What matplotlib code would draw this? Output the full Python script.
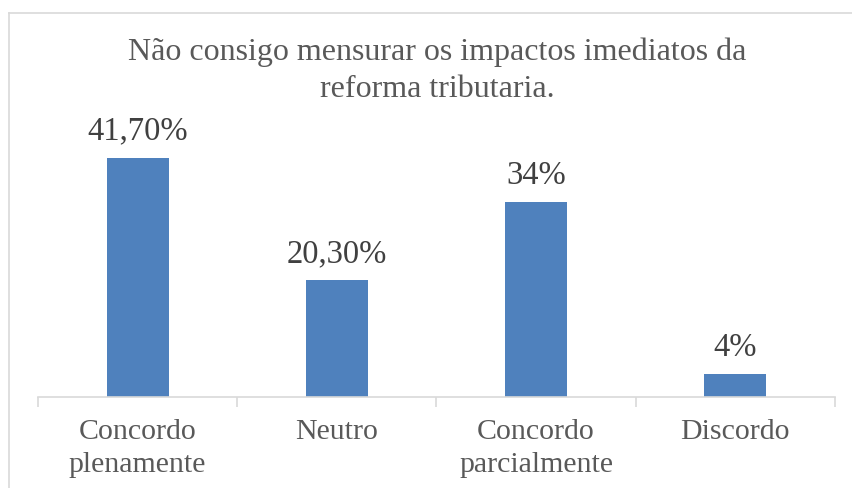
import matplotlib.pyplot as plt
from matplotlib.lines import Line2D

categories = ['Concordo\nplenamente', 'Neutro', 'Concordo\nparcialmente', 'Discordo']
values = [41.7, 20.3, 34, 4]
value_labels = ['41,70%', '20,30%', '34%', '4%']

plt.rcParams['font.family'] = ['Liberation Serif', 'DejaVu Serif']

W, H = 853, 488
fig = plt.figure(figsize=(W / 100, H / 100), dpi=100)

# plot area in pixels: x 38..835, baseline at y=397
ax = fig.add_axes([38 / W, (H - 397) / H, (835 - 38) / W, 287 / H])
x = range(len(categories))
ax.bar(x, values, width=0.31, color='#4F81BD', zorder=2)
ax.set_xlim(-0.5, len(categories) - 0.5)
ax.set_ylim(0, 50)

for xi, v, lab in zip(x, values, value_labels):
    ax.annotate(lab, (xi, v), xytext=(0, 8), textcoords='offset points',
                ha='center', va='bottom', fontsize=23.5, color='#404040')

for s in ['top', 'right', 'left']:
    ax.spines[s].set_visible(False)
ax.spines['bottom'].set_color('#D9D9D9')
ax.spines['bottom'].set_linewidth(1.2)
ax.set_yticks([])
ax.set_xticks(x)
ax.set_xticklabels(categories, fontsize=21.5, color='#595959', linespacing=1.33)
ax.tick_params(axis='x', length=0, pad=16)
# separator ticks between categories
ax.set_xticks([i - 0.5 for i in range(len(categories) + 1)], minor=True)
ax.tick_params(axis='x', which='minor', length=7, color='#D9D9D9', width=1.2)

fig.text(437 / W, 1 - 71 / H, 'Não consigo mensurar os impactos imediatos da\nreforma tributaria.',
         ha='center', va='center', fontsize=23, color='#595959', linespacing=1.35)

# chart border (left and top visible)
fig.add_artist(Line2D([9 / W, 9 / W], [0, 1 - 13 / H], transform=fig.transFigure,
                      color='#D9D9D9', lw=1.2))
fig.add_artist(Line2D([9 / W, 1], [1 - 13 / H, 1 - 13 / H], transform=fig.transFigure,
                      color='#D9D9D9', lw=1.2))

fig.savefig('out.png', dpi=100)
